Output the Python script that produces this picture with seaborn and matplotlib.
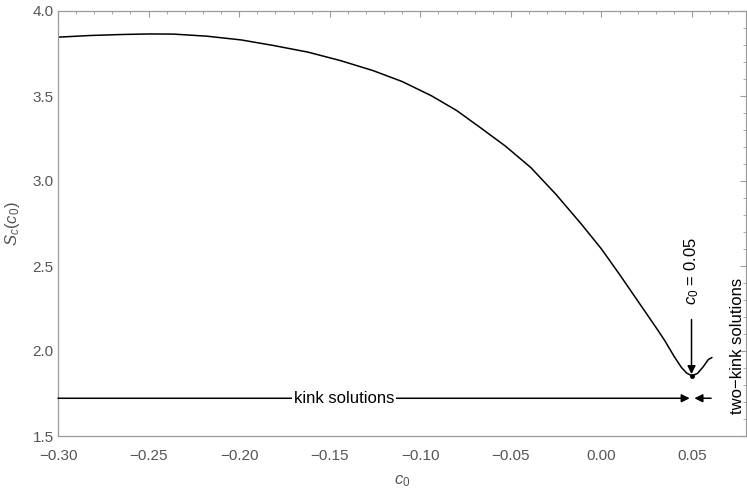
import numpy as np
import pandas as pd
import matplotlib
matplotlib.use("Agg")
import matplotlib.pyplot as plt
import seaborn as sns
from matplotlib.ticker import MultipleLocator, FormatStrFormatter

# ---- data ----
c0 = [-0.300, -0.282, -0.264, -0.249, -0.236, -0.218, -0.199, -0.181, -0.162,
      -0.144, -0.126, -0.110, -0.094, -0.080, -0.067, -0.053, -0.039, -0.025,
      -0.011, 0.000, 0.010, 0.020, 0.030, 0.035, 0.040, 0.044, 0.047, 0.050,
      0.053, 0.056, 0.059, 0.061]
Sc = [3.846, 3.856, 3.862, 3.865, 3.864, 3.852, 3.830, 3.797, 3.758,
      3.708, 3.649, 3.585, 3.502, 3.415, 3.315, 3.205, 3.079, 2.920,
      2.745, 2.600, 2.450, 2.295, 2.140, 2.060, 1.970, 1.905, 1.870, 1.854,
      1.868, 1.905, 1.950, 1.962]

x_ticks = [-0.30, -0.25, -0.20, -0.15, -0.10, -0.05, 0.00, 0.05]
y_ticks = [1.5, 2.0, 2.5, 3.0, 3.5, 4.0]

kink_level = 1.722
min_point = (0.0497, 1.854)

df = pd.DataFrame({"c0": c0, "Sc": Sc})

sns.set_theme(style="white")
plt.rcParams["font.family"] = ["Liberation Sans", "DejaVu Sans"]
plt.rcParams["mathtext.fontset"] = "custom"
plt.rcParams["mathtext.it"] = "Liberation Sans:italic"
plt.rcParams["mathtext.rm"] = "Liberation Sans"

fig = plt.figure(figsize=(7.47, 4.91), dpi=100)
ax = fig.add_axes([58/747, 1-436/491, (745.5-58)/747, (436-11)/491])

sns.lineplot(data=df, x="c0", y="Sc", ax=ax, color="black", lw=1.1, sort=False)

ax.set_xlim(-0.30, 0.0795)
ax.set_ylim(1.5, 4.0)
ax.set_xticks(x_ticks)
ax.set_yticks(y_ticks)
ax.yaxis.set_major_formatter(FormatStrFormatter("%.1f"))
ax.set_xticklabels([f"{t:.2f}".replace("-", "\u2212") for t in x_ticks])
ax.xaxis.set_minor_locator(MultipleLocator(0.01))
ax.yaxis.set_minor_locator(MultipleLocator(0.1))
frame_col = "#9a9a9a"
ax.tick_params(which="both", direction="in", top=True, right=True,
               color=frame_col, labelcolor="#555555", labelsize=11)
ax.tick_params(which="major", length=4.5, width=0.8)
ax.tick_params(which="minor", length=2.5, width=0.6)
ax.tick_params(axis="x", which="major", pad=9)
ax.tick_params(axis="y", which="major", pad=3)
for lbl in ax.get_yticklabels():
    lbl.set_verticalalignment("center_baseline")
for s in ax.spines.values():
    s.set_color(frame_col)
    s.set_linewidth(0.9)

ax.set_xlabel(r"$c_0$", color="#555555", fontsize=12, labelpad=8)
ax.set_ylabel(r"$S_c(c_0)$", color="#555555", fontsize=12, labelpad=8)

# kink solutions arrow
ax.annotate("", xy=(0.0487, kink_level), xytext=(-0.30, kink_level),
            arrowprops=dict(arrowstyle="-|>", color="black", lw=1.1,
                            mutation_scale=12, shrinkA=0, shrinkB=0))
ax.text(-0.142, kink_level, "kink solutions", ha="center", va="center",
        fontsize=12, color="black",
        bbox=dict(facecolor="white", edgecolor="none", pad=1.5))

# two-kink solutions arrow
ax.annotate("", xy=(0.0513, kink_level), xytext=(0.0605, kink_level),
            arrowprops=dict(arrowstyle="-|>", color="black", lw=1.1,
                            mutation_scale=12, shrinkA=0, shrinkB=0))
ax.text(0.0752, 2.03, "two\u2212kink solutions", rotation=90, ha="center",
        va="center", fontsize=12, color="black")

# c0 = 0.05 marker
ax.annotate("", xy=(min_point[0], min_point[1] + 0.01),
            xytext=(min_point[0], 2.185),
            arrowprops=dict(arrowstyle="-|>", color="black", lw=1.1,
                            mutation_scale=12, shrinkA=0, shrinkB=0))
ax.text(min_point[0], 2.47, r"$c_0$ = 0.05", rotation=90, ha="center",
        va="center", fontsize=12, color="black")
ax.plot([min_point[0]], [min_point[1]], "o", color="black", ms=2.5)

fig.savefig("out.png", dpi=100)
